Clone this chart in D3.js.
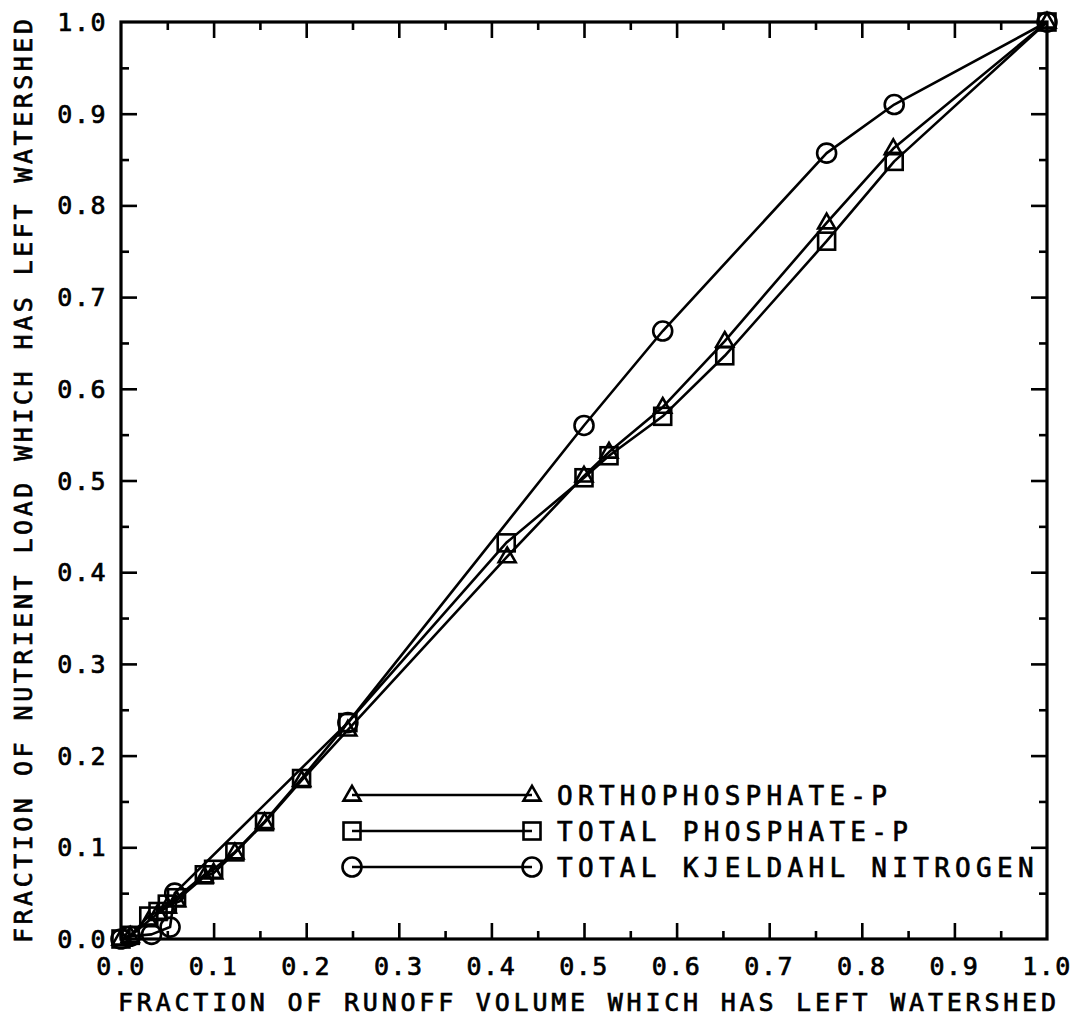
<!DOCTYPE html>
<html>
<head>
<meta charset="utf-8">
<script src="https://cdn.jsdelivr.net/npm/d3@7"></script>
<style>
  html, body { margin: 0; padding: 0; background: #fff; }
  svg { display: block; }
  text { font-family: "DejaVu Sans Mono", monospace; fill: #000; stroke: #000; stroke-width: 0.7; }
</style>
</head>
<body>
<svg id="chart" width="1080" height="1018"></svg>
<script>
// Cumulative fraction of runoff volume (x) vs cumulative fraction of load (y)
const orthoP = [
  [0.000, 0.000], [0.010, 0.003], [0.030, 0.020], [0.040, 0.028], [0.050, 0.035],
  [0.060, 0.042], [0.090, 0.068], [0.100, 0.072], [0.123, 0.094], [0.155, 0.127],
  [0.195, 0.173], [0.245, 0.228], [0.417, 0.417], [0.500, 0.505], [0.527, 0.531],
  [0.585, 0.580], [0.652, 0.652], [0.762, 0.781], [0.834, 0.862], [1.000, 1.000]
];
const totalP = [
  [0.000, 0.000], [0.010, 0.004], [0.030, 0.025], [0.040, 0.030], [0.050, 0.038],
  [0.060, 0.045], [0.090, 0.070], [0.100, 0.076], [0.123, 0.095], [0.155, 0.128],
  [0.195, 0.175], [0.245, 0.236], [0.416, 0.432], [0.500, 0.503], [0.527, 0.527],
  [0.585, 0.570], [0.652, 0.636], [0.762, 0.761], [0.835, 0.848], [1.000, 1.000]
];
const tkn = [
  [0.000, 0.000], [0.010, 0.003], [0.033, 0.005], [0.053, 0.013], [0.058, 0.050],
  [0.245, 0.236], [0.500, 0.560], [0.585, 0.663], [0.762, 0.857],
  [0.835, 0.910], [1.000, 1.000]
];
const seriesNames = ["ORTHOPHOSPHATE-P", "TOTAL PHOSPHATE-P", "TOTAL KJELDAHL NITROGEN"];
const seriesShapes = ["triangle", "square", "circle"];
const majorTicks = [0, 0.1, 0.2, 0.3, 0.4, 0.5, 0.6, 0.7, 0.8, 0.9, 1.0];
const minorTicks = [0.05, 0.15, 0.25, 0.35, 0.45, 0.55, 0.65, 0.75, 0.85, 0.95];
const tickLabels = ["0.0", "0.1", "0.2", "0.3", "0.4", "0.5", "0.6", "0.7", "0.8", "0.9", "1.0"];
const xTitle = "FRACTION OF RUNOFF VOLUME WHICH HAS LEFT WATERSHED";
const yTitle = "FRACTION OF NUTRIENT LOAD WHICH HAS LEFT WATERSHED";

const svg = d3.select("#chart");
const plotLeft = 121, plotRight = 1047, plotTop = 22, plotBottom = 939;
const x = d3.scaleLinear().domain([0, 1]).range([plotLeft, plotRight]);
const y = d3.scaleLinear().domain([0, 1]).range([plotBottom, plotTop]);

const ink = "#000";
const lw = 2.6;

// Frame with inward ticks on all four sides
const frame = svg.append("g");
frame.append("rect")
  .attr("x", plotLeft).attr("y", plotTop)
  .attr("width", plotRight - plotLeft).attr("height", plotBottom - plotTop)
  .attr("fill", "none").attr("stroke", ink).attr("stroke-width", 3.2);

const inner = majorTicks.slice(1, -1);
[[d3.axisBottom(x), `translate(0,${plotBottom})`],
 [d3.axisTop(x), `translate(0,${plotTop})`],
 [d3.axisLeft(y), `translate(${plotLeft},0)`],
 [d3.axisRight(y), `translate(${plotRight},0)`]].forEach(([ax, tr]) => {
  frame.append("g").attr("transform", tr)
    .call(ax.tickValues(inner).tickSize(-16).tickFormat(""));
  frame.append("g").attr("transform", tr)
    .call(ax.tickValues(minorTicks).tickSize(-8).tickFormat(""));
});
frame.selectAll(".domain").remove();
frame.selectAll(".tick line").attr("stroke", ink).attr("stroke-width", 2.6);

// Tick labels
svg.append("g").selectAll("text").data(majorTicks).join("text")
  .attr("x", d => x(d)).attr("y", 975)
  .attr("text-anchor", "middle")
  .attr("font-size", 25)
  .attr("letter-spacing", 1.5)
  .text((d, i) => tickLabels[i]);
svg.append("g").selectAll("text").data(majorTicks).join("text")
  .attr("x", 107).attr("y", d => y(d) + 9)
  .attr("text-anchor", "end")
  .attr("font-size", 25)
  .attr("letter-spacing", 1.5)
  .text((d, i) => tickLabels[i]);

// Axis titles
svg.append("text")
  .attr("x", 118).attr("y", 1011)
  .attr("font-size", 25)
  .attr("textLength", 938).attr("lengthAdjust", "spacing")
  .text(xTitle);
svg.append("text")
  .attr("transform", "translate(32,943) rotate(-90)")
  .attr("font-size", 25)
  .attr("textLength", 924).attr("lengthAdjust", "spacing")
  .text(yTitle);

// Marker drawing
function marker(g, shape, cx, cy) {
  if (shape === "triangle") {
    const s = 17, h = s * Math.sqrt(3) / 2;
    g.append("path")
      .attr("d", `M${cx},${cy - h * 0.62}L${cx + s / 2},${cy + h * 0.38}L${cx - s / 2},${cy + h * 0.38}Z`)
      .attr("fill", "none").attr("stroke", ink).attr("stroke-width", lw);
  } else if (shape === "square") {
    const s = 17;
    g.append("rect")
      .attr("x", cx - s / 2).attr("y", cy - s / 2).attr("width", s).attr("height", s)
      .attr("fill", "none").attr("stroke", ink).attr("stroke-width", lw);
  } else {
    g.append("circle")
      .attr("cx", cx).attr("cy", cy).attr("r", 9.5)
      .attr("fill", "none").attr("stroke", ink).attr("stroke-width", lw);
  }
}

const line = d3.line().x(d => x(d[0])).y(d => y(d[1]));
const allSeries = [orthoP, totalP, tkn];
const plot = svg.append("g");
allSeries.forEach((data, i) => {
  plot.append("path").datum(data)
    .attr("d", line)
    .attr("fill", "none").attr("stroke", ink).attr("stroke-width", lw)
    .attr("stroke-linejoin", "round");
  const mg = plot.append("g");
  data.forEach(d => marker(mg, seriesShapes[i], x(d[0]), y(d[1])));
});

// Legend
const legend = svg.append("g");
const legendRows = [795, 831, 867];
seriesNames.forEach((name, i) => {
  const ly = legendRows[i];
  legend.append("line")
    .attr("x1", 352).attr("x2", 532).attr("y1", ly).attr("y2", ly)
    .attr("stroke", ink).attr("stroke-width", lw);
  marker(legend, seriesShapes[i], 352, ly);
  marker(legend, seriesShapes[i], 532, ly);
  legend.append("text")
    .attr("x", 557).attr("y", ly + 10)
    .attr("font-size", 26)
    .attr("letter-spacing", 5.3)
    .text(name);
});
</script>
</body>
</html>
